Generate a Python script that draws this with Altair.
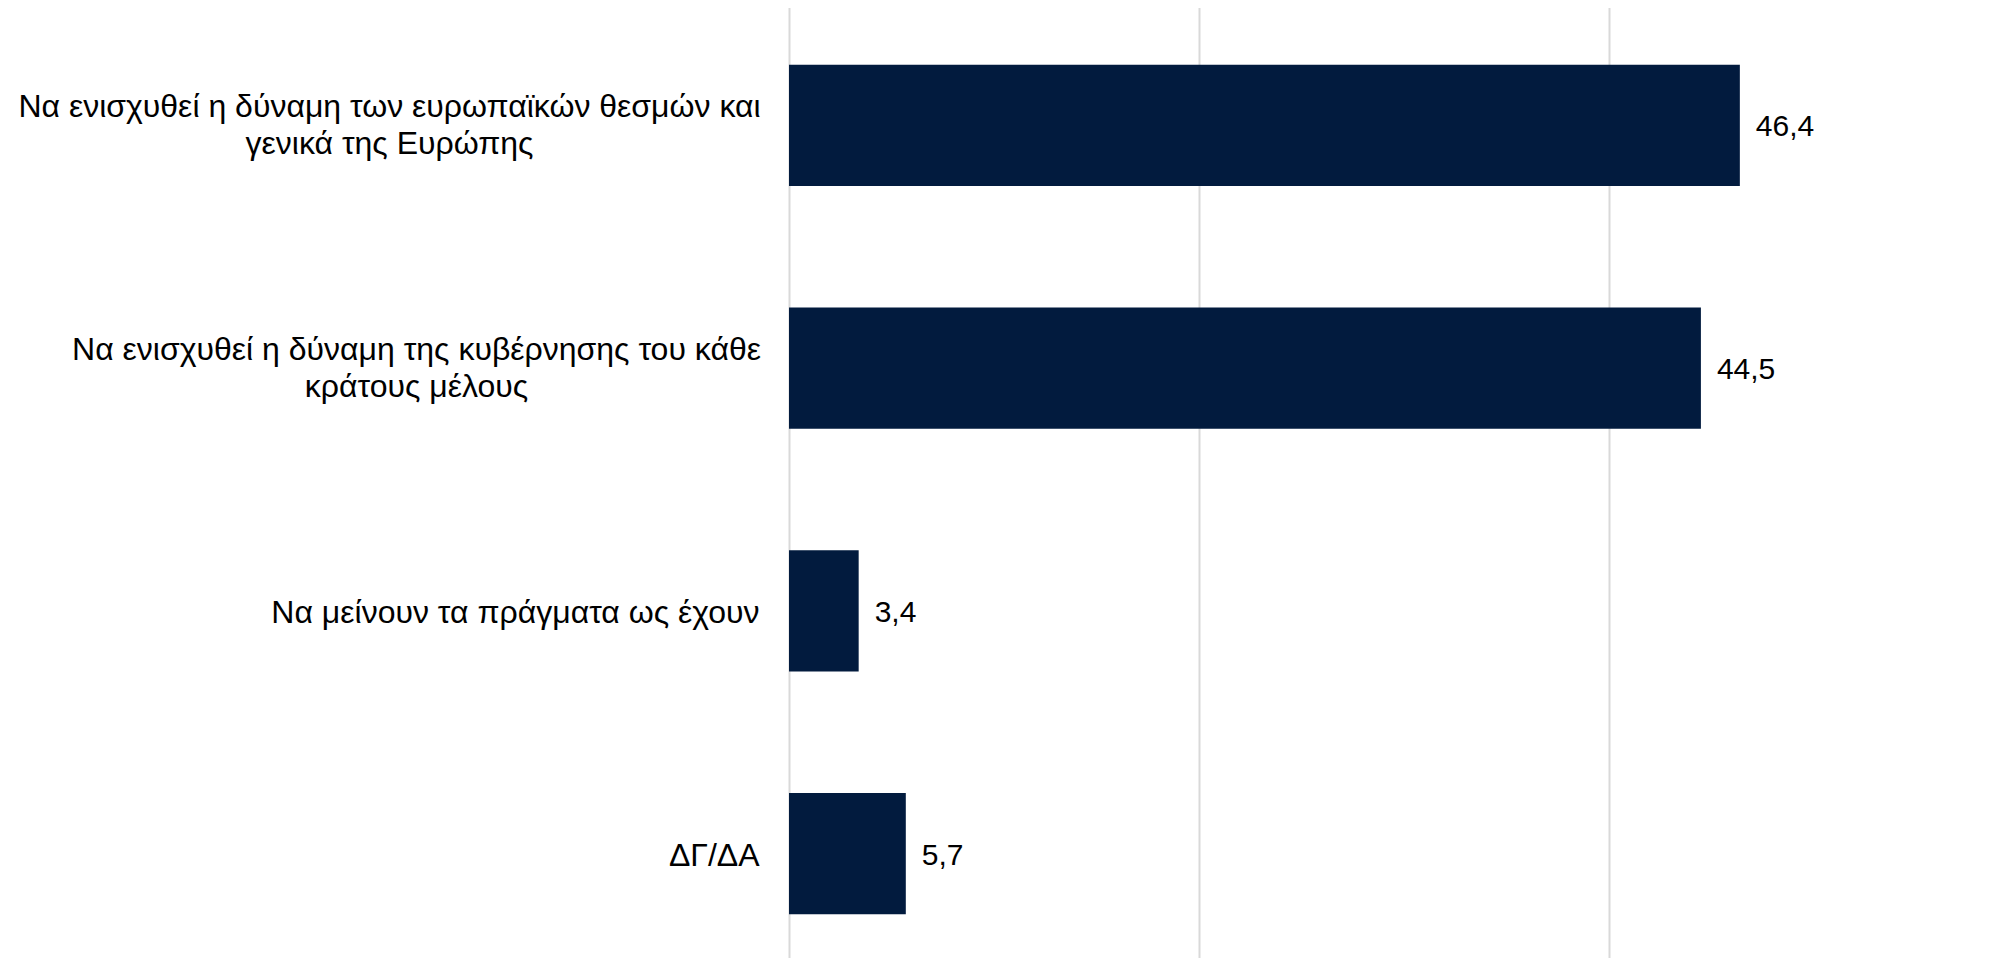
import altair as alt
import pandas as pd

categories = [
    "Να ενισχυθεί η δύναμη των ευρωπαϊκών θεσμών και\nγενικά της Ευρώπης",
    "Να ενισχυθεί η δύναμη της κυβέρνησης του κάθε\nκράτους μέλους",
    "Να μείνουν τα πράγματα ως έχουν",
    "ΔΓ/ΔΑ",
]
values = [46.4, 44.5, 3.4, 5.7]
grid_ticks = [0, 20, 40]

df = pd.DataFrame({"cat": categories, "val": values})

FONT = "Liberation Sans"
BAR = "#021B3E"

MULTI = "indexof(datum.value, 'θεσμών') >= 0 || indexof(datum.value, 'κράτους μέλους') >= 0"

y_scale = alt.Scale(range=[-4, 967], paddingInner=0.5, paddingOuter=0.25)
x_scale = alt.Scale(domain=[0, 58.9], nice=False, zero=True)

y_enc = alt.Y(
    "cat:N",
    sort=categories,
    title=None,
    scale=y_scale,
    axis=alt.Axis(
        orient="left",
        domain=False,
        ticks=False,
        tickSize=0,
        grid=False,
        labelFont=FONT,
        labelFontSize=32,
        labelColor="#000000",
        labelLimit=0,
        labelLineHeight=37,
        labelExpr="split(datum.label, '\\n')",
        labelAlign={"condition": {"test": MULTI, "value": "center"}, "value": "right"},
        labelOffset={"condition": {"test": MULTI, "value": -18}, "value": 2},
        labelPadding={
            "condition": [
                {"test": "indexof(datum.value, 'θεσμών') >= 0", "value": 400},
                {"test": "indexof(datum.value, 'κράτους μέλους') >= 0", "value": 373},
            ],
            "value": 30,
        },
    ),
)

x_enc = alt.X(
    "val:Q",
    title=None,
    scale=x_scale,
    axis=alt.Axis(
        orient="bottom",
        values=grid_ticks,
        labels=False,
        ticks=False,
        domain=False,
        grid=True,
        gridColor="#D9D9D9",
        gridWidth=2,
    ),
)

bars = alt.Chart(df).mark_bar(color=BAR).encode(x=x_enc, y=y_enc)

text = (
    alt.Chart(df)
    .transform_calculate(lab="replace(format(datum.val, '.1f'), '.', ',')")
    .mark_text(align="left", baseline="middle", dx=16, dy=2, font=FONT, fontSize=30, color="#000000")
    .encode(
        x=alt.X("val:Q"),
        y=alt.Y("cat:N", sort=categories),
        text="lab:N",
    )
)

chart = (
    alt.layer(bars, text)
    .properties(
        width=1207,
        height=950,
        background="#FFFFFF",
        autosize=alt.AutoSizeParams(type="none"),
        padding={"left": 781, "top": 0, "right": 0, "bottom": 0},
    )
    .configure_view(strokeWidth=0, stroke="transparent")
)

chart.save("out.html", embed_options={"renderer": "svg", "actions": False})
